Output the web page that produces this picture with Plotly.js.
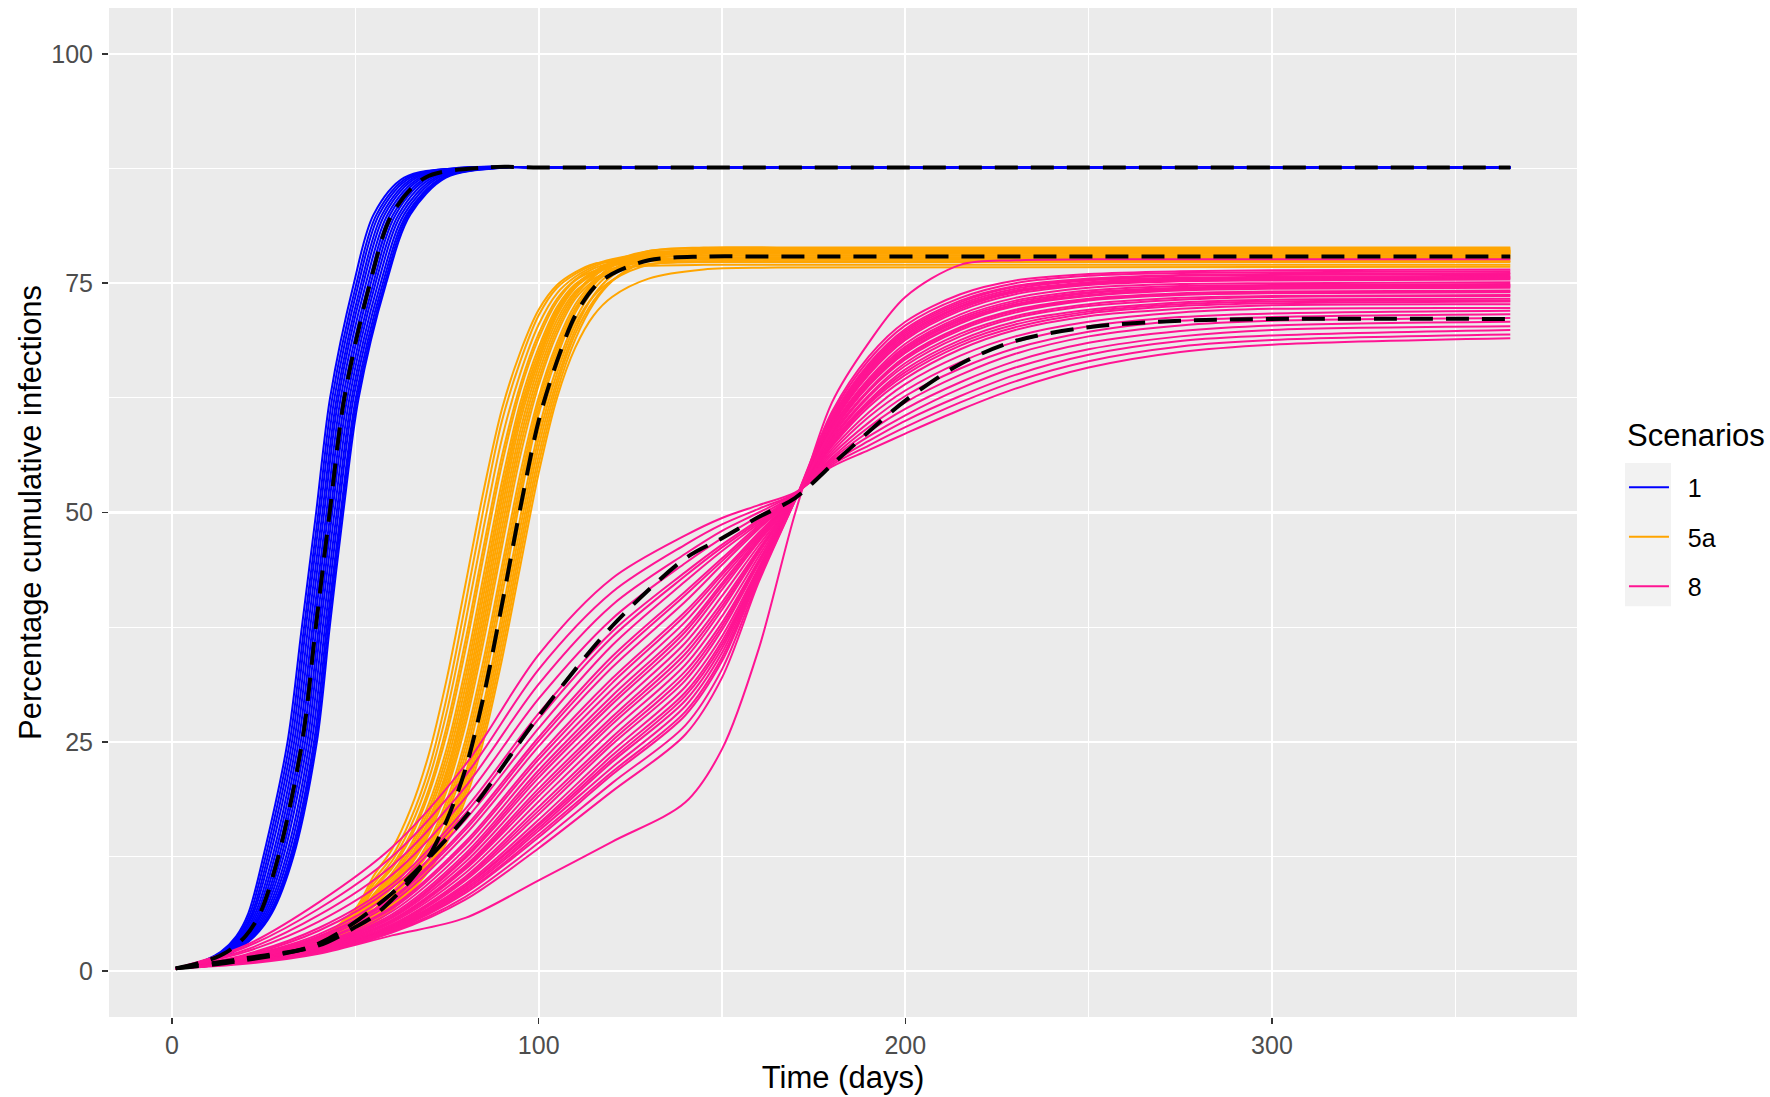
<!DOCTYPE html>
<html>
<head>
<meta charset="utf-8">
<script src="https://cdn.plot.ly/plotly-3.0.1.min.js"></script>
<style>
html,body{margin:0;padding:0;background:#ffffff;}
#chart{width:1770px;height:1097px;}
</style>
</head>
<body>
<div id="chart"></div>
<script>
// ---------------- DATA ----------------
// Scenario 1 (blue): cumulative-infection levels (%) and, per simulation run, the day each level is reached
const BLUE_LEVELS = [0.3, 1.2, 2.1, 3.8, 6.3, 12.5, 25, 37.5, 50, 62.5, 75, 82.5, 86.5, 87.6, 87.6, 87.6];
const BLUE_RUN_DAYS = [
  [1, 9.1, 13.3, 17.5, 20.8, 24.9, 31.5, 35.4, 39.3, 43.1, 49.6, 55.0, 63.3, 79.3, 105, 365],
  [1, 9.2, 13.6, 17.9, 21.3, 25.5, 32.1, 36.0, 39.9, 43.7, 50.3, 55.8, 64.2, 80.2, 105, 365],
  [1, 9.4, 13.8, 18.3, 21.8, 26.1, 32.7, 36.5, 40.4, 44.3, 50.9, 56.5, 65.0, 81.0, 105, 365],
  [1, 9.5, 14.1, 18.6, 22.2, 26.7, 33.3, 37.1, 41.0, 44.9, 51.6, 57.3, 65.9, 81.9, 105, 365],
  [1, 9.6, 14.3, 19.0, 22.7, 27.4, 33.9, 37.7, 41.5, 45.4, 52.2, 58.0, 66.7, 82.7, 105, 365],
  [1, 9.8, 14.6, 19.4, 23.2, 28.0, 34.5, 38.3, 42.1, 46.0, 52.9, 58.8, 67.6, 83.6, 105, 365],
  [1, 9.9, 14.8, 19.8, 23.7, 28.6, 35.1, 38.8, 42.6, 46.6, 53.6, 59.5, 68.4, 84.4, 105, 365],
  [1, 10.0, 15.1, 20.1, 24.2, 29.2, 35.7, 39.4, 43.2, 47.2, 54.2, 60.3, 69.3, 85.3, 105, 365],
  [1, 10.2, 15.3, 20.5, 24.6, 29.8, 36.3, 40.0, 43.7, 47.8, 54.9, 61.0, 70.1, 86.1, 105, 365],
  [1, 10.3, 15.6, 20.9, 25.1, 30.4, 36.9, 40.5, 44.3, 48.4, 55.5, 61.8, 71.0, 87.0, 105, 365],
  [1, 10.5, 15.9, 21.3, 25.6, 31.1, 37.5, 41.1, 44.9, 49.0, 56.2, 62.5, 71.9, 87.9, 105, 365],
  [1, 10.6, 16.1, 21.6, 26.1, 31.7, 38.1, 41.7, 45.4, 49.5, 56.9, 63.3, 72.7, 88.7, 105, 365],
  [1, 10.7, 16.4, 22.0, 26.6, 32.3, 38.7, 42.2, 46.0, 50.1, 57.5, 64.0, 73.6, 89.6, 105, 365],
  [1, 10.8, 16.5, 22.3, 26.9, 32.7, 39.1, 42.6, 46.3, 50.5, 58.0, 64.5, 74.1, 90.1, 105, 365],
  [1, 10.9, 16.7, 22.5, 27.2, 33.1, 39.5, 43.0, 46.7, 50.9, 58.4, 65.0, 74.7, 90.7, 105, 365]
];
const BLUE_MEAN_DAYS = [1, 10, 15, 20, 24, 29, 35.5, 39.2, 43, 47, 54, 60, 69, 85, 105, 365];

// Scenario 5a (orange)
const ORANGE_DAYS = [1, 20, 40, 50, 55, 60, 65, 70, 75, 80, 85, 90, 95, 100, 105, 110, 115, 120, 130, 145, 165, 365];
const ORANGE_RUNS = [
  [0.3, 1.6, 3.6, 6.8, 10.4, 13.3, 17.6, 23.6, 32.0, 42.1, 52.4, 61.3, 67.5, 72.1, 74.8, 76.2, 77.1, 77.3, 77.4, 77.4, 77.4, 77.4],
  [0.3, 1.6, 3.5, 6.5, 9.9, 12.5, 16.5, 22.0, 30.0, 40.0, 50.5, 60.0, 66.5, 71.5, 74.5, 76.0, 77.0, 77.6, 78.3, 78.5, 78.5, 78.5],
  [0.3, 1.5, 3.4, 6.2, 9.5, 12.0, 15.7, 20.9, 28.4, 38.0, 48.4, 58.1, 65.2, 70.5, 73.9, 75.7, 76.8, 77.5, 78.1, 78.2, 78.2, 78.2],
  [0.3, 1.5, 3.3, 6.0, 9.1, 11.5, 14.9, 19.8, 26.8, 36.0, 46.3, 56.2, 63.9, 69.5, 73.3, 75.4, 76.6, 77.2, 77.8, 78.0, 78.0, 78.0],
  [0.3, 1.5, 3.3, 5.9, 8.9, 11.2, 14.5, 19.3, 26.0, 35.0, 45.3, 55.3, 63.3, 69.0, 73.0, 75.3, 76.3, 76.6, 76.9, 77.0, 77.0, 77.0],
  [0.3, 1.5, 3.2, 5.7, 8.4, 10.7, 13.7, 18.2, 24.4, 33.0, 43.2, 53.4, 62.0, 68.0, 72.4, 74.9, 76.1, 76.9, 77.5, 77.7, 77.7, 77.7],
  [0.3, 1.5, 3.2, 5.6, 8.2, 10.4, 13.3, 17.6, 23.6, 32.0, 42.1, 52.4, 61.3, 67.5, 72.1, 74.8, 76.3, 77.3, 78.3, 78.6, 78.6, 78.6],
  [0.3, 1.4, 3.1, 5.5, 8.0, 10.2, 12.9, 17.1, 22.8, 31.0, 41.1, 51.5, 60.7, 67.0, 71.8, 74.7, 76.2, 77.2, 78.1, 78.4, 78.4, 78.4],
  [0.3, 1.4, 3.1, 5.4, 7.8, 9.9, 12.5, 16.5, 22.0, 30.0, 40.0, 50.5, 60.0, 66.5, 71.5, 74.5, 76.0, 77.0, 77.8, 78.0, 78.0, 78.0],
  [0.3, 1.4, 3.1, 5.3, 7.6, 9.7, 12.2, 16.1, 21.5, 29.2, 39.0, 49.5, 59.0, 65.9, 71.0, 74.1, 75.5, 76.3, 77.1, 77.3, 77.3, 77.3],
  [0.3, 1.4, 3.0, 5.2, 7.4, 9.5, 12.0, 15.7, 20.9, 28.4, 38.0, 48.4, 58.1, 65.2, 70.5, 73.9, 75.9, 77.3, 78.5, 78.8, 78.8, 78.8],
  [0.3, 1.4, 3.0, 5.1, 7.2, 9.3, 11.7, 15.3, 20.3, 27.6, 37.0, 47.3, 57.2, 64.5, 70.0, 73.6, 75.7, 77.0, 78.0, 78.3, 78.3, 78.3],
  [0.3, 1.4, 3.0, 5.1, 7.1, 9.1, 11.5, 14.9, 19.8, 26.8, 36.0, 46.3, 56.2, 63.9, 69.5, 73.3, 75.3, 76.5, 77.4, 77.6, 77.6, 77.6],
  [0.3, 1.4, 2.9, 5.0, 6.7, 8.6, 10.9, 14.1, 18.7, 25.2, 34.0, 44.2, 54.3, 62.6, 68.5, 72.7, 75.2, 76.8, 78.1, 78.4, 78.4, 78.4],
  [0.3, 1.4, 2.9, 4.9, 6.5, 8.4, 10.6, 13.7, 18.1, 24.4, 33.0, 43.2, 53.3, 62.0, 68.0, 72.3, 74.9, 76.4, 77.5, 77.8, 77.8, 77.8],
  [0.3, 1.4, 2.9, 4.9, 6.4, 8.2, 10.4, 13.3, 17.6, 23.6, 32.0, 42.1, 52.4, 61.3, 67.5, 72.1, 75.0, 76.9, 78.5, 78.9, 78.9, 78.9],
  [0.3, 1.4, 2.8, 4.8, 6.1, 8.0, 10.2, 12.9, 17.1, 22.8, 31.0, 41.0, 51.5, 60.7, 67.0, 71.8, 74.8, 76.5, 78.0, 78.3, 78.3, 78.3],
  [0.3, 1.4, 2.8, 4.7, 5.9, 7.6, 9.7, 12.2, 16.1, 21.5, 29.2, 39.0, 49.5, 59.0, 65.9, 71.0, 74.3, 76.2, 78.0, 78.6, 78.6, 78.6],
  [0.3, 1.4, 2.8, 4.6, 5.8, 7.4, 9.5, 12.0, 15.7, 20.9, 28.4, 38.0, 48.4, 58.1, 65.2, 70.5, 73.6, 75.3, 77.0, 77.4, 77.4, 77.4],
  [0.3, 1.4, 2.7, 4.6, 5.7, 7.2, 9.2, 11.6, 15.3, 20.4, 27.6, 37.0, 47.3, 57.2, 64.5, 70.0, 73.7, 75.8, 77.9, 78.7, 78.7, 78.7],
  [0.3, 1.4, 2.7, 4.5, 5.5, 7.1, 9.1, 11.5, 14.9, 19.8, 26.8, 36.0, 46.3, 56.2, 63.9, 69.5, 73.1, 75.3, 77.5, 78.2, 78.2, 78.2],
  [0.3, 1.3, 2.7, 4.5, 5.4, 6.9, 8.8, 11.2, 14.5, 19.3, 26.0, 35.0, 45.3, 55.3, 63.2, 68.9, 72.8, 75.2, 77.7, 78.5, 78.5, 78.5],
  [0.3, 1.3, 2.6, 4.4, 5.3, 6.7, 8.6, 10.9, 14.1, 18.7, 25.2, 34.0, 44.2, 54.3, 62.5, 68.0, 71.5, 73.5, 75.5, 76.5, 76.7, 76.8]
];
const ORANGE_MEAN = [0.3, 1.4, 2.8, 4.8, 6.0, 7.8, 9.9, 12.5, 16.5, 22.0, 30.0, 40.0, 50.5, 60.0, 66.5, 71.5, 74.5, 76.0, 77.5, 77.9, 77.9, 77.9];

// Scenario 8 (pink)
const PINK_DAYS = [1, 20, 40, 60, 80, 100, 120, 140, 150, 160, 170, 180, 190, 200, 215, 230, 250, 275, 300, 365];
const PINK_RUNS = [
  [0.3, 2.8, 7.5, 13.5, 22.5, 34.5, 42.8, 47.5, 49.4, 50.8, 52.2, 55.0, 56.8, 58.6, 61.2, 63.5, 65.8, 67.5, 68.3, 69.0],
  [0.3, 2.6, 6.8, 12.5, 21.3, 32.9, 41.3, 46.5, 48.7, 50.4, 52.1, 55.4, 57.8, 60.0, 62.7, 65.0, 67.2, 68.7, 69.3, 69.9],
  [0.3, 2.3, 6.1, 11.5, 20.1, 31.3, 39.9, 45.5, 48.0, 50.0, 52.1, 55.2, 57.3, 59.3, 62.0, 64.3, 66.5, 68.1, 68.8, 69.4],
  [0.3, 2.1, 5.4, 10.5, 18.9, 29.7, 38.4, 44.5, 47.2, 49.6, 52.0, 55.6, 58.3, 60.6, 63.5, 65.8, 67.8, 69.2, 69.9, 70.3],
  [0.3, 1.8, 4.7, 9.5, 17.7, 28.1, 37.0, 43.5, 46.5, 49.2, 52.0, 55.8, 58.8, 61.3, 64.2, 66.5, 68.5, 69.8, 70.4, 70.8],
  [0.3, 1.7, 4.4, 9.1, 17.2, 27.5, 36.4, 43.1, 46.2, 49.0, 51.9, 56.0, 59.3, 62.0, 65.0, 67.3, 69.2, 70.4, 70.9, 71.2],
  [0.3, 1.6, 4.0, 8.5, 16.5, 26.5, 35.5, 42.5, 45.8, 48.8, 51.9, 56.3, 59.8, 62.7, 65.7, 67.9, 69.7, 70.9, 71.3, 71.6],
  [0.3, 1.5, 3.8, 8.0, 15.7, 25.5, 34.3, 41.4, 45.0, 48.6, 51.9, 56.6, 60.4, 63.3, 66.4, 68.6, 70.3, 71.3, 71.7, 72.0],
  [0.3, 1.5, 3.7, 7.8, 15.4, 25.1, 33.8, 41.0, 44.7, 48.4, 51.8, 56.9, 60.9, 64.0, 67.1, 69.2, 70.8, 71.8, 72.2, 72.3],
  [0.3, 1.4, 3.5, 7.5, 14.9, 24.5, 33.1, 40.3, 44.3, 48.2, 51.8, 57.2, 61.5, 64.6, 67.8, 69.9, 71.4, 72.2, 72.6, 72.7],
  [0.3, 1.4, 3.3, 7.0, 14.1, 23.5, 31.9, 39.2, 43.5, 47.8, 51.8, 57.4, 61.8, 65.0, 68.2, 70.2, 71.7, 72.5, 72.8, 73.0],
  [0.3, 1.3, 3.2, 6.8, 13.8, 23.1, 31.4, 38.8, 43.2, 47.6, 51.7, 57.5, 62.0, 65.3, 68.5, 70.5, 71.9, 72.7, 73.0, 73.1],
  [0.3, 1.3, 3.0, 6.5, 13.3, 22.5, 30.7, 38.1, 42.8, 47.4, 51.7, 57.7, 62.2, 65.6, 68.8, 70.8, 72.1, 72.9, 73.2, 73.3],
  [0.3, 1.2, 2.9, 6.2, 12.8, 21.9, 30.0, 37.4, 42.3, 47.2, 51.7, 57.9, 62.6, 66.0, 69.2, 71.2, 72.5, 73.2, 73.5, 73.6],
  [0.3, 1.2, 2.8, 6.0, 12.5, 21.5, 29.5, 37.0, 42.0, 47.0, 51.7, 58.1, 62.8, 66.3, 69.5, 71.4, 72.7, 73.4, 73.6, 73.7],
  [0.3, 1.2, 2.8, 5.9, 12.3, 21.1, 29.1, 36.5, 41.6, 46.8, 51.6, 58.3, 63.2, 66.7, 69.9, 71.8, 73.1, 73.7, 73.9, 74.0],
  [0.3, 1.2, 2.7, 5.8, 11.9, 20.5, 28.4, 35.8, 40.9, 46.4, 51.6, 58.5, 63.4, 67.0, 70.2, 72.1, 73.3, 73.9, 74.1, 74.2],
  [0.3, 1.1, 2.6, 5.6, 11.5, 19.9, 27.7, 35.1, 40.2, 46.0, 51.6, 58.7, 63.8, 67.4, 70.6, 72.5, 73.6, 74.2, 74.4, 74.5],
  [0.3, 1.1, 2.6, 5.5, 11.3, 19.5, 27.3, 34.6, 39.8, 45.8, 51.6, 58.9, 64.0, 67.7, 70.9, 72.7, 73.9, 74.4, 74.6, 74.7],
  [0.3, 1.1, 2.6, 5.4, 11.1, 19.1, 26.9, 34.1, 39.4, 45.6, 51.5, 59.1, 64.4, 68.1, 71.3, 73.1, 74.2, 74.7, 74.8, 74.9],
  [0.3, 1.1, 2.5, 5.3, 10.7, 18.5, 26.2, 33.4, 38.7, 45.2, 51.5, 59.3, 64.6, 68.4, 71.6, 73.4, 74.5, 74.9, 75.0, 75.1],
  [0.3, 1.1, 2.4, 5.1, 10.3, 17.9, 25.5, 32.7, 38.0, 44.8, 51.5, 59.5, 65.0, 68.8, 72.0, 73.8, 74.8, 75.2, 75.3, 75.4],
  [0.3, 1.0, 2.4, 5.0, 10.1, 17.5, 25.1, 32.2, 37.6, 44.6, 51.5, 59.7, 65.2, 69.0, 72.2, 74.0, 74.9, 75.3, 75.4, 75.5],
  [0.3, 1.0, 2.4, 4.9, 9.9, 17.1, 24.7, 31.7, 37.2, 44.4, 51.5, 59.8, 65.4, 69.2, 72.4, 74.1, 75.0, 75.4, 75.5, 75.6],
  [0.3, 1.0, 2.3, 4.8, 9.5, 16.5, 24.0, 31.0, 36.5, 44.0, 51.5, 58.4, 63.3, 66.9, 70.1, 72.0, 73.2, 73.8, 74.0, 74.1],
  [0.3, 1.0, 2.3, 4.7, 9.3, 16.1, 23.5, 30.4, 36.0, 43.8, 51.5, 59.9, 65.6, 69.4, 72.5, 74.2, 75.1, 75.5, 75.6, 75.7],
  [0.3, 1.0, 2.2, 4.7, 9.2, 15.9, 23.1, 30.0, 35.6, 43.7, 51.4, 58.8, 63.9, 67.5, 70.7, 72.6, 73.7, 74.3, 74.5, 74.6],
  [0.3, 1.0, 2.2, 4.6, 9.0, 15.6, 22.8, 29.5, 35.2, 43.6, 51.4, 60.1, 65.8, 69.6, 72.7, 74.4, 75.3, 75.6, 75.7, 75.8],
  [0.3, 1.0, 2.2, 4.6, 8.8, 15.3, 22.2, 28.9, 34.7, 43.4, 51.4, 60.3, 66.0, 69.8, 72.9, 74.6, 75.4, 75.8, 75.9, 76.0],
  [0.3, 0.9, 2.1, 4.5, 8.6, 14.9, 21.7, 28.3, 34.2, 43.2, 51.4, 59.0, 64.2, 67.9, 71.1, 72.9, 74.0, 74.5, 74.7, 74.8],
  [0.3, 0.9, 2.1, 4.4, 8.5, 14.6, 21.4, 27.9, 33.8, 43.0, 51.4, 60.4, 66.2, 70.0, 73.1, 74.7, 75.5, 75.9, 76.0, 76.1],
  [0.3, 0.9, 2.1, 4.3, 8.1, 14.0, 20.5, 26.8, 32.9, 42.7, 51.4, 60.7, 66.6, 70.4, 73.4, 75.0, 75.8, 76.1, 76.2, 76.3],
  [0.3, 0.9, 2.0, 4.2, 7.8, 13.4, 19.6, 25.8, 32.0, 42.4, 51.4, 61.0, 67.0, 70.8, 73.8, 75.3, 76.0, 76.3, 76.4, 76.5],
  [0.3, 0.8, 1.9, 3.9, 5.8, 9.9, 14.1, 18.4, 24.2, 35.1, 50.0, 62.0, 68.5, 73.5, 77.0, 77.5, 77.6, 77.6, 77.6, 77.6]
];
const PINK_MEAN = [0.3, 1.2, 3.0, 8.5, 16.8, 27.8, 37.6, 45.0, 47.2, 49.5, 51.6, 55.2, 58.8, 62.2, 66.2, 68.7, 70.2, 70.9, 71.1, 71.1];

const SCENARIO_NAMES = ['1', '5a', '8'];
const SCENARIO_COLORS = ['#0000FF', '#FFA500', '#FF1493'];
const LEGEND_TITLE = 'Scenarios';

// ---------------- TRACES ----------------
const FONT = 'Liberation Sans, Arial, sans-serif';
const NBSP = '\u00A0\u00A0';
const traces = [];
const runLine = (color) => ({color: color, width: 2.0, shape: 'spline', smoothing: 0.9});

BLUE_RUN_DAYS.forEach((days, i) => {
  traces.push({x: days, y: BLUE_LEVELS, type: 'scatter', mode: 'lines', line: runLine(SCENARIO_COLORS[0]),
    name: NBSP + SCENARIO_NAMES[0], legendgroup: 's1', showlegend: i === 0, hoverinfo: 'skip'});
});
ORANGE_RUNS.forEach((vals, i) => {
  traces.push({x: ORANGE_DAYS, y: vals, type: 'scatter', mode: 'lines', line: runLine(SCENARIO_COLORS[1]),
    name: NBSP + SCENARIO_NAMES[1], legendgroup: 's5a', showlegend: i === 0, hoverinfo: 'skip'});
});
PINK_RUNS.forEach((vals, i) => {
  traces.push({x: PINK_DAYS, y: vals, type: 'scatter', mode: 'lines', line: runLine(SCENARIO_COLORS[2]),
    name: NBSP + SCENARIO_NAMES[2], legendgroup: 's8', showlegend: i === 0, hoverinfo: 'skip'});
});
const meanLine = {color: '#000000', width: 4, dash: '23px,13px', shape: 'spline', smoothing: 0.9};
traces.push({x: BLUE_MEAN_DAYS, y: BLUE_LEVELS, type: 'scatter', mode: 'lines', line: meanLine, showlegend: false, hoverinfo: 'skip'});
traces.push({x: ORANGE_DAYS, y: ORANGE_MEAN, type: 'scatter', mode: 'lines', line: meanLine, showlegend: false, hoverinfo: 'skip'});
traces.push({x: PINK_DAYS, y: PINK_MEAN, type: 'scatter', mode: 'lines', line: meanLine, showlegend: false, hoverinfo: 'skip'});

// ---------------- LAYOUT ----------------
const axisCommon = {
  showline: false, zeroline: false,
  ticks: 'outside', ticklen: 6, tickwidth: 1.5, tickcolor: '#333333',
  tickfont: {family: FONT, size: 25, color: '#4D4D4D'},
  gridcolor: '#FFFFFF', gridwidth: 2.2,
  automargin: false
};
const layout = {
  width: 1770, height: 1097,
  margin: {l: 109, r: 193, t: 8, b: 80, pad: 0},
  paper_bgcolor: '#FFFFFF', plot_bgcolor: '#EBEBEB',
  font: {family: FONT, color: '#000000'},
  showlegend: true,
  xaxis: Object.assign({}, axisCommon, {
    range: [-17.2, 383.2], tick0: 0, dtick: 100, ticklabelstandoff: 0,
    minor: {dtick: 50, tick0: 0, showgrid: true, gridcolor: '#FFFFFF', gridwidth: 1.1, ticks: ''},
    title: {text: 'Time (days)', font: {family: FONT, size: 31, color: '#000000'}, standoff: 8}
  }),
  yaxis: Object.assign({}, axisCommon, {
    range: [-5, 105], tick0: 0, dtick: 25, ticklabelstandoff: 4,
    minor: {dtick: 12.5, tick0: 0, showgrid: true, gridcolor: '#FFFFFF', gridwidth: 1.1, ticks: ''},
    title: {text: 'Percentage cumulative infections', font: {family: FONT, size: 31, color: '#000000'}, standoff: 0}
  }),
  legend: {
    font: {family: FONT, size: 25, color: '#000000'},
    x: 1.032, y: 0.5475, xanchor: 'left', yanchor: 'top',
    bgcolor: 'rgba(0,0,0,0)', borderwidth: 0,
    traceorder: 'grouped', tracegroupgap: 14, itemwidth: 40
  },
  annotations: [{
    text: LEGEND_TITLE, xref: 'paper', yref: 'paper', x: 1.033, y: 0.576,
    xanchor: 'left', yanchor: 'middle', showarrow: false,
    font: {family: FONT, size: 31, color: '#000000'}
  }],
  shapes: [{
    type: 'rect', xref: 'paper', yref: 'paper', layer: 'below',
    x0: 1.0327, x1: 1.064, y0: 0.407, y1: 0.549,
    fillcolor: '#F2F2F2', line: {width: 0}
  }]
};

Plotly.newPlot('chart', traces, layout, {displayModeBar: false, staticPlot: true});
</script>
</body>
</html>
